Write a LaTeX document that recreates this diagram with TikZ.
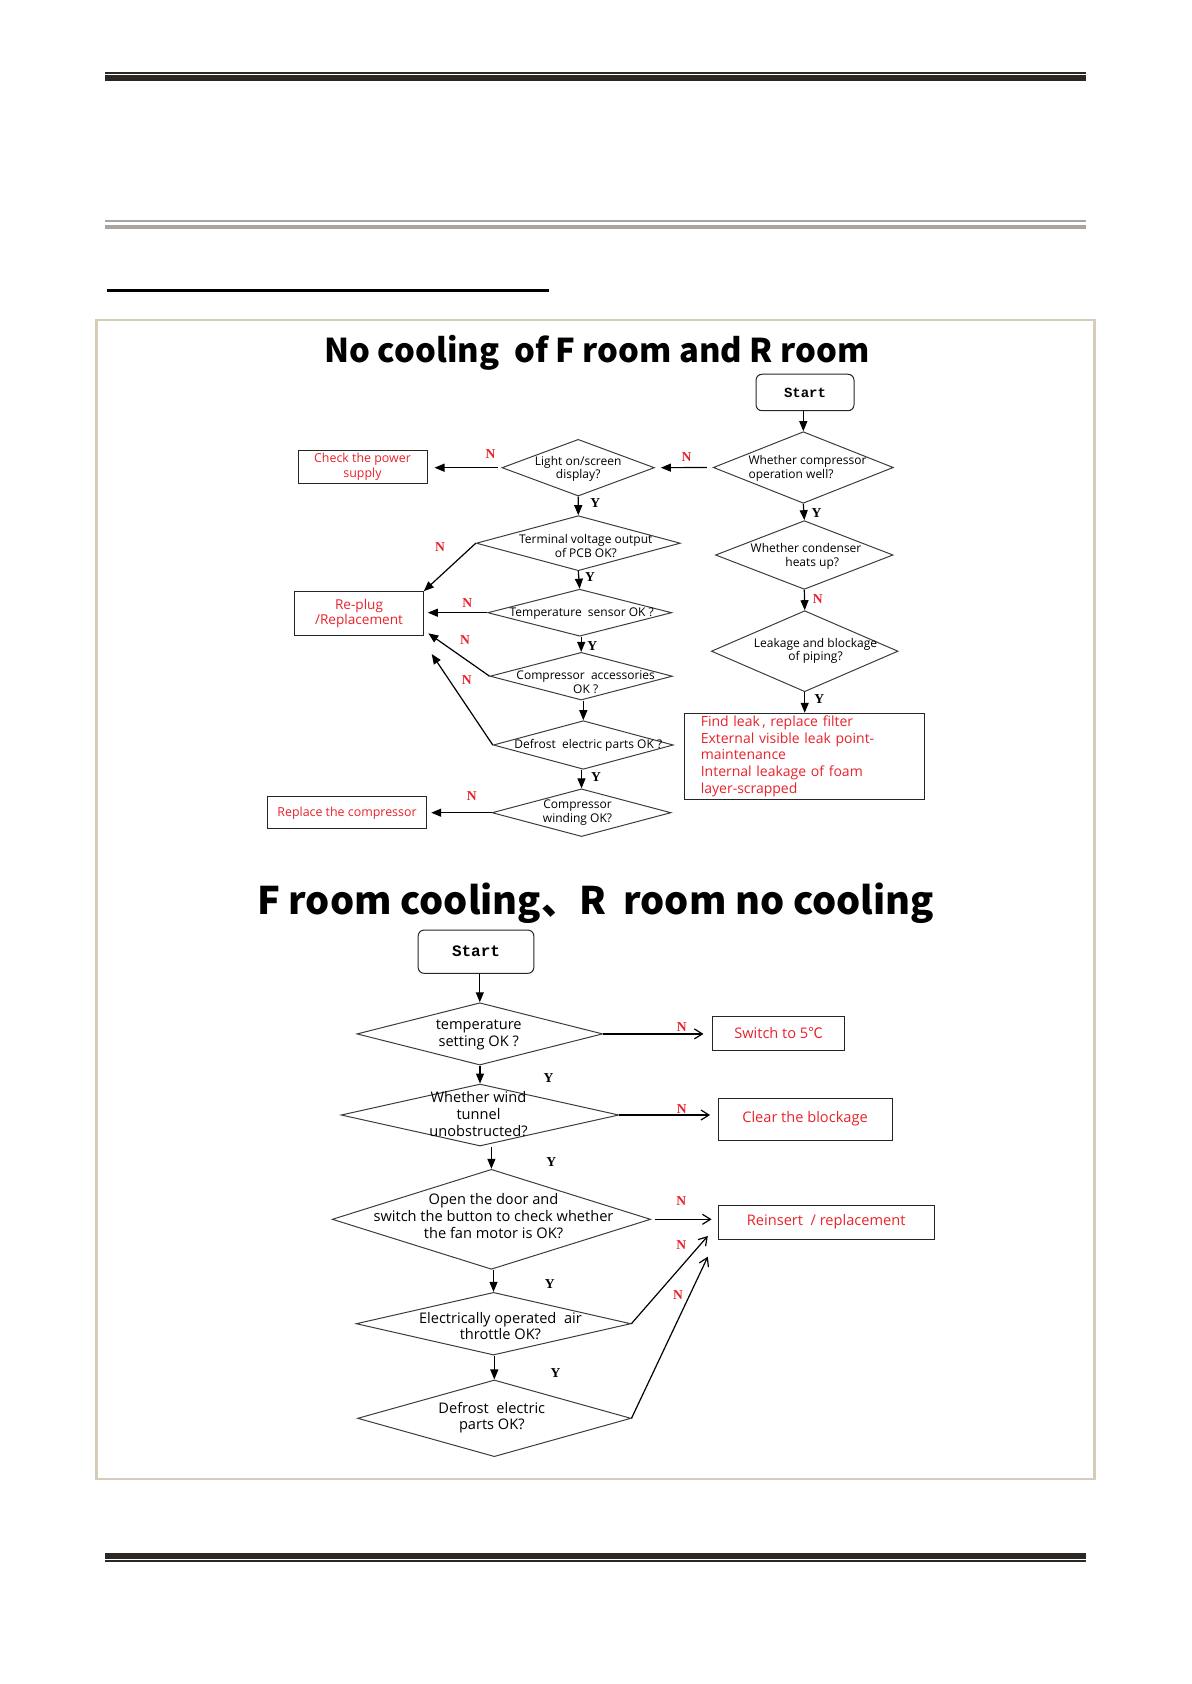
\documentclass[tikz,border=0pt]{standalone}
\usepackage{fontspec}
\setmainfont{Open Sans}
\newfontfamily\cjk{Noto Sans CJK SC}
\newfontfamily\yn{Liberation Serif}
\newfontfamily\mono{Liberation Mono}
\usetikzlibrary{arrows.meta, shapes.geometric}
\definecolor{rulebk}{HTML}{2b2724}
\definecolor{rulegr}{HTML}{aaa49e}
\definecolor{framec}{HTML}{d6ccb8}
\definecolor{alertred}{HTML}{e8222a}
\definecolor{edgegr}{HTML}{3c3c3c}

\begin{document}
\begin{tikzpicture}[x=0.5pt, y=-0.5pt,
    dec/.style 2 args={diamond, draw=edgegr, line width=0.5pt, inner sep=0pt,
      minimum width=#1*0.5pt, minimum height=#2*0.5pt},
    dtxt/.style={font=\fontsize{6}{6.8}\selectfont, align=center, inner sep=0pt},
    dtxtb/.style={font=\fontsize{7.3}{8.4}\selectfont, align=center, inner sep=0pt},
    act/.style 2 args={draw=black!85, line width=0.5pt, text=alertred, align=center,
      inner sep=0pt, minimum width=#1*0.5pt, minimum height=#2*0.5pt,
      font=\fontsize{6.2}{7.1}\selectfont},
    startbox/.style 2 args={draw=black!85, rounded corners=3pt, line width=0.5pt,
      minimum width=#1*0.5pt, minimum height=#2*0.5pt},
    nlbl/.style={text=alertred, font=\yn\bfseries\fontsize{6.8}{7}\selectfont, inner sep=0pt},
    ylbl/.style={nlbl, text=black},
    arr/.style={-{Triangle[length=5pt, width=4pt]}, line width=0.6pt},
    barb/.style={-{Straight Barb[length=4pt, width=5pt]}, line width=0.6pt},
  ]
  \useasboundingbox (0,0) rectangle (1191,1684);

  % page rules and frame
  \fill[rulebk] (105,72) rectangle (1086,73.7);
  \fill[rulebk] (105,75) rectangle (1086,81);
  \fill[rulegr] (105,220) rectangle (1086,222);
  \fill[rulegr] (105,224.7) rectangle (1086,229);
  \fill[black] (107,289.3) rectangle (549,292);
  \fill[rulebk] (105,1552.7) rectangle (1086,1558.7);
  \fill[rulebk] (105,1560) rectangle (1086,1562);
  \draw[framec, line width=1.3pt] (96.7,320) rectangle (1094.4,1478.8);

  % --- chart 1 ---
  \node[font=\cjk\bfseries\fontsize{16.4}{18}\selectfont, anchor=base] (title1) at (597,363)
    {No cooling\ \ of F room and R room};

  \node[startbox={98}{36.5}, font=\mono\bfseries\fontsize{7}{8}\selectfont] (s1) at (805,392.5) {Start};

  \node[dec={180}{71.6}] (d1) at (803.3,467.5) {};
  \node[dtxt, align=left] (d1t) at (807.5,468.3) {Whether compressor\\operation well?};
  \node[dec={152.4}{56.7}] (d2) at (578.2,467.7) {};
  \node[dtxt] (d2t) at (578.2,469) {Light on/screen\\display?};
  \node[act={129}{33.3}] (pw) at (362.5,466.7) {Check the power\\supply};

  \node[dec={204}{55}] (d3) at (578.3,543.2) {};
  \node[dtxt] (d3t) at (585.8,546) {Terminal voltage output\\of PCB OK?};
  \node[dec={184}{47}] (d4) at (579.7,612.7) {};
  \node[dtxt] (d4t) at (581.7,613.3) {Temperature\ \ sensor OK ?};
  \node[dec={182.3}{47.7}] (d5) at (581.2,676.2) {};
  \node[dtxt] (d5t) at (585.7,682) {Compressor\ \ accessories\\OK ?};
  \node[dec={180}{48.6}] (d6) at (583.3,745) {};
  \node[dtxt] (d6t) at (588.3,745.7) {Defrost\ \ electric parts OK ?};
  \node[dec={179}{47.7}] (d7) at (581.5,812.7) {};
  \node[dtxt] (d7t) at (577.5,812.5) {Compressor\\winding OK?};

  \node[act={128.6}{44.3}, font=\fontsize{6.8}{7.4}\selectfont] (rb) at (359,613.8) {Re-plug\\/Replacement};
  \coordinate (rb1) at (428.3,633.3);
  \coordinate (rb2) at (431.7,654);
  \node[act={159.4}{32.3}] (rc) at (347,812.8) {Replace the compressor};

  \node[dec={177.6}{68.7}] (d8) at (804.3,555) {};
  \node[dtxt] (d8t) at (806,556.3) {Whether condenser\\\ \ \ \ heats up?};
  \node[dec={186.7}{81}] (d9) at (804.7,651.2) {};
  \node[dtxt] (d9t) at (815.5,650.8) {Leakage and blockage\\of piping?};
  \node[act={240.3}{86}, font=\fontsize{7}{8.35}\selectfont, align=left,
    text width=104pt, inner xsep=8pt] (fl) at (804.8,756.3)
    {Find leak\,,\ replace filter\\External visible leak point-\\maintenance\\Internal leakage of foam\\layer-scrapped};

  \draw[arr] (d1.north |- s1.south) -- (d1.north);
  \draw[arr, shorten <=3pt, shorten >=3pt] (d1.west) -- (d2.east);
  \draw[arr, shorten <=2pt, shorten >=3.5pt] (d2.west) -- (d2.west -| pw.east);
  \draw[arr] (d2.south) -- (d3.north);
  \draw[arr] (d3.west) -- (rb.north east);
  \draw[arr] (d3.south) -- (d4.north);
  \draw[arr, shorten >=2pt] (d4.west) -- (d4.west -| rb.east);
  \draw[arr] (d5.north |- d4.south) -- (d5.north);
  \draw[arr] (d5.west) -- (rb1);
  \draw[arr] (d6.north |- d5.south) -- (d6.north);
  \draw[arr] (d6.west) -- (rb2);
  \draw[arr] (d7.north |- d6.south) -- (d7.north);
  \draw[arr, shorten >=2pt] (d7.west) -- (d7.west -| rc.east);
  \draw[arr] (d1.south) -- (d8.north);
  \draw[arr] (d8.south) -- (d9.north);
  \draw[arr] (d9.south) -- (fl.north -| d9.south);

  \node[nlbl] (n1) at (686.4,457.3) {N};
  \node[nlbl] (n2) at (490.6,454.3) {N};
  \node[ylbl] (y1) at (595.4,502.7) {Y};
  \node[ylbl] (y2) at (816.5,513) {Y};
  \node[nlbl] (n3) at (440,547) {N};
  \node[ylbl] (y3) at (590,577.3) {Y};
  \node[nlbl] (n4) at (467.3,603.3) {N};
  \node[ylbl] (y4) at (592.3,645.7) {Y};
  \node[nlbl] (n5) at (465,640) {N};
  \node[nlbl] (n6) at (466.7,680) {N};
  \node[ylbl] (y5) at (596,776.7) {Y};
  \node[nlbl] (n7) at (471.7,796) {N};
  \node[nlbl] (n8) at (817.7,599) {N};
  \node[ylbl] (y6) at (819.3,699) {Y};

  % --- chart 2 ---
  \node[font=\cjk\bfseries\fontsize{19}{21}\selectfont, anchor=base] (title2) at (595.5,914)
    {F room cooling、R\ \ room no cooling};

  \node[startbox={115.7}{43.3}, font=\mono\bfseries\fontsize{8}{9}\selectfont] (s2) at (476,951.7) {Start};

  \node[dec={245.7}{62.3}] (d10) at (479.8,1033.9) {};
  \node[dtxtb] (d10t) at (478.7,1034.7) {temperature\\setting OK ?};
  \node[dec={277.8}{62}] (d11) at (480,1115) {};
  \node[dtxtb] (d11t) at (478.5,1114.3) {Whether wind\\tunnel\\unobstructed?};
  \node[dec={318.4}{100}] (d12) at (491.4,1219.3) {};
  \node[dtxtb] (d12t) at (493.5,1216) {Open the door and\\switch the button to check whether\\the fan motor is OK?};
  \node[dec={274.7}{62.7}] (d13) at (493.5,1323.7) {};
  \node[dtxtb] (d13t) at (500.4,1326) {Electrically operated\ \ air\\throttle OK?};
  \node[dec={273.4}{76.7}] (d14) at (494.3,1418.3) {};
  \node[dtxtb] (d14t) at (491.8,1417.7) {Defrost\ \ electric\\parts OK?};

  \node[act={131.3}{34.7}, font=\fontsize{7.3}{8}\selectfont] (sw) at (778.6,1033.4) {Switch to 5{\cjk ℃}};
  \node[act={174}{42}, font=\fontsize{7.3}{8}\selectfont] (cb) at (805,1119) {Clear the blockage};
  \node[act={216.3}{34}, font=\fontsize{7.3}{8}\selectfont] (ri) at (826.2,1222) {Reinsert\ \ / replacement};
  \coordinate (ri1) at (707.8,1236);
  \coordinate (ri2) at (707.8,1256.7);

  \draw[arr] (d10.north |- s2.south) -- (d10.north);
  \draw[barb, shorten >=4.5pt] (d10.east) -- (d10.east -| sw.west);
  \draw[arr] (d11.north |- d10.south) -- (d11.north);
  \draw[barb, shorten >=3.7pt] (d11.east) -- (d11.east -| cb.west);
  \draw[arr] (d12.north |- d11.south) -- (d12.north);
  \draw[barb, shorten <=2pt, shorten >=3pt] (d12.east) -- (d12.east -| ri.west);
  \draw[arr] (d13.north |- d12.south) -- (d13.north);
  \draw[barb] (d13.east) -- (ri1);
  \draw[arr] (d14.north |- d13.south) -- (d14.north);
  \draw[barb] (d14.east) -- (ri2);

  \node[nlbl] (n9) at (681.7,1026.7) {N};
  \node[ylbl] (y7) at (548.5,1078.3) {Y};
  \node[nlbl] (n10) at (681.7,1109) {N};
  \node[ylbl] (y8) at (551.4,1161.7) {Y};
  \node[nlbl] (n11) at (681.2,1201) {N};
  \node[ylbl] (y9) at (549.8,1284.3) {Y};
  \node[nlbl] (n12) at (681.2,1245) {N};
  \node[ylbl] (y10) at (555.5,1373.3) {Y};
  \node[nlbl] (n13) at (678,1295) {N};
\end{tikzpicture}
\end{document}
